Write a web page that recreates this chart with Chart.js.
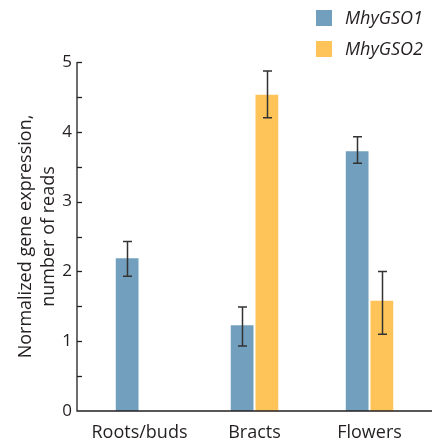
<!DOCTYPE html>
<html>
<head>
<meta charset="utf-8">
<script src="https://cdn.jsdelivr.net/npm/chart.js@4"></script>
<style>
html,body{margin:0;padding:0;background:#fff;}
#wrap{width:438px;height:444px;}
</style>
</head>
<body>
<div id="wrap"><canvas id="c" width="438" height="444"></canvas></div>
<script>
const categories = ['Roots/buds', 'Bracts', 'Flowers'];
const seriesNames = ['MhyGSO1', 'MhyGSO2'];
const gso1 = [2.19, 1.23, 3.72];
const gso2 = [null, 4.53, 1.58];
const gso1Low = [1.93, 0.93, 3.55];
const gso1High = [2.43, 1.49, 3.93];
const gso2Low = [null, 4.20, 1.10];
const gso2High = [null, 4.87, 2.00];
const yTicks = [0, 1, 2, 3, 4, 5];

const BLUE = '#729fbd';
const YELLOW = '#fec459';
const INK = '#231f20';
const FONT = "'Open Sans', sans-serif";

const errors = [[gso1Low, gso1High], [gso2Low, gso2High]];

const axesPlugin = {
  id: 'axesPlugin',
  afterDatasetsDraw(chart) {
    const ctx = chart.ctx;
    const y = chart.scales.y;
    const a = chart.chartArea;
    const ax = a.left - 5;
    ctx.save();
    ctx.strokeStyle = INK;
    ctx.lineWidth = 1.3;
    ctx.beginPath();
    ctx.moveTo(ax, y.getPixelForValue(5));
    ctx.lineTo(ax, y.getPixelForValue(0));
    ctx.lineTo(a.right + 5, y.getPixelForValue(0));
    ctx.stroke();
    for (let v = 0.5; v <= 5; v += 0.5) {
      const py = Math.round(y.getPixelForValue(v)) + 0.5;
      ctx.beginPath();
      ctx.moveTo(ax, py);
      ctx.lineTo(ax + 5, py);
      ctx.stroke();
    }
    // error bars
    ctx.lineWidth = 1.5;
    ctx.strokeStyle = '#333';
    chart.data.datasets.forEach((ds, di) => {
      const meta = chart.getDatasetMeta(di);
      meta.data.forEach((bar, i) => {
        const lo = errors[di][0][i], hi = errors[di][1][i];
        if (lo == null || hi == null) return;
        const x = Math.round(bar.x) + 0.5;
        const y1 = y.getPixelForValue(hi), y2 = y.getPixelForValue(lo);
        ctx.beginPath();
        ctx.moveTo(x, y1); ctx.lineTo(x, y2);
        ctx.moveTo(x - 4.5, y1); ctx.lineTo(x + 4.5, y1);
        ctx.moveTo(x - 4.5, y2); ctx.lineTo(x + 4.5, y2);
        ctx.stroke();
      });
    });
    // legend
    ctx.font = "italic 18px " + FONT;
    ctx.textBaseline = 'middle';
    ctx.textAlign = 'left';
    chart.data.datasets.forEach((ds, di) => {
      const cy = 18 + di * 31;
      ctx.fillStyle = ds.backgroundColor;
      ctx.fillRect(316, cy - 8, 16, 16);
      ctx.fillStyle = INK;
      ctx.fillText(ds.label, 345, cy + 1);
    });
    ctx.restore();
  }
};

new Chart(document.getElementById('c'), {
  type: 'bar',
  data: {
    labels: categories,
    datasets: [
      { label: seriesNames[0], data: gso1, backgroundColor: BLUE, borderWidth: 0 },
      { label: seriesNames[1], data: gso2, backgroundColor: YELLOW, borderWidth: 0 }
    ]
  },
  options: {
    responsive: false,
    animation: false,
    events: [],
    layout: { padding: { top: 62, right: 11, left: 0, bottom: 0 } },
    datasets: { bar: { categoryPercentage: 0.43, barPercentage: 0.92 } },
    plugins: { legend: { display: false }, tooltip: { enabled: false } },
    scales: {
      x: {
        grid: { display: false, drawTicks: false, tickLength: 0 },
        border: { display: false },
        ticks: { color: INK, font: { family: FONT, size: 18 }, padding: 11, maxRotation: 0 },
        afterFit(s) { s.height = 33; }
      },
      y: {
        min: 0, max: 5,
        afterBuildTicks(s) { s.ticks = yTicks.map(v => ({ value: v })); },
        grid: { display: false, drawTicks: false, tickLength: 0 },
        border: { display: false },
        ticks: { color: INK, font: { family: FONT, size: 17 }, padding: 10 },
        title: {
          display: true,
          text: ['Normalized gene expression,', 'number of reads'],
          color: INK,
          font: { family: FONT, size: 18, lineHeight: 1.28 },
          padding: { top: 14, bottom: 0 }
        },
        afterFit(s) { s.width = 82; }
      }
    }
  },
  plugins: [axesPlugin]
});
</script>
</body>
</html>
